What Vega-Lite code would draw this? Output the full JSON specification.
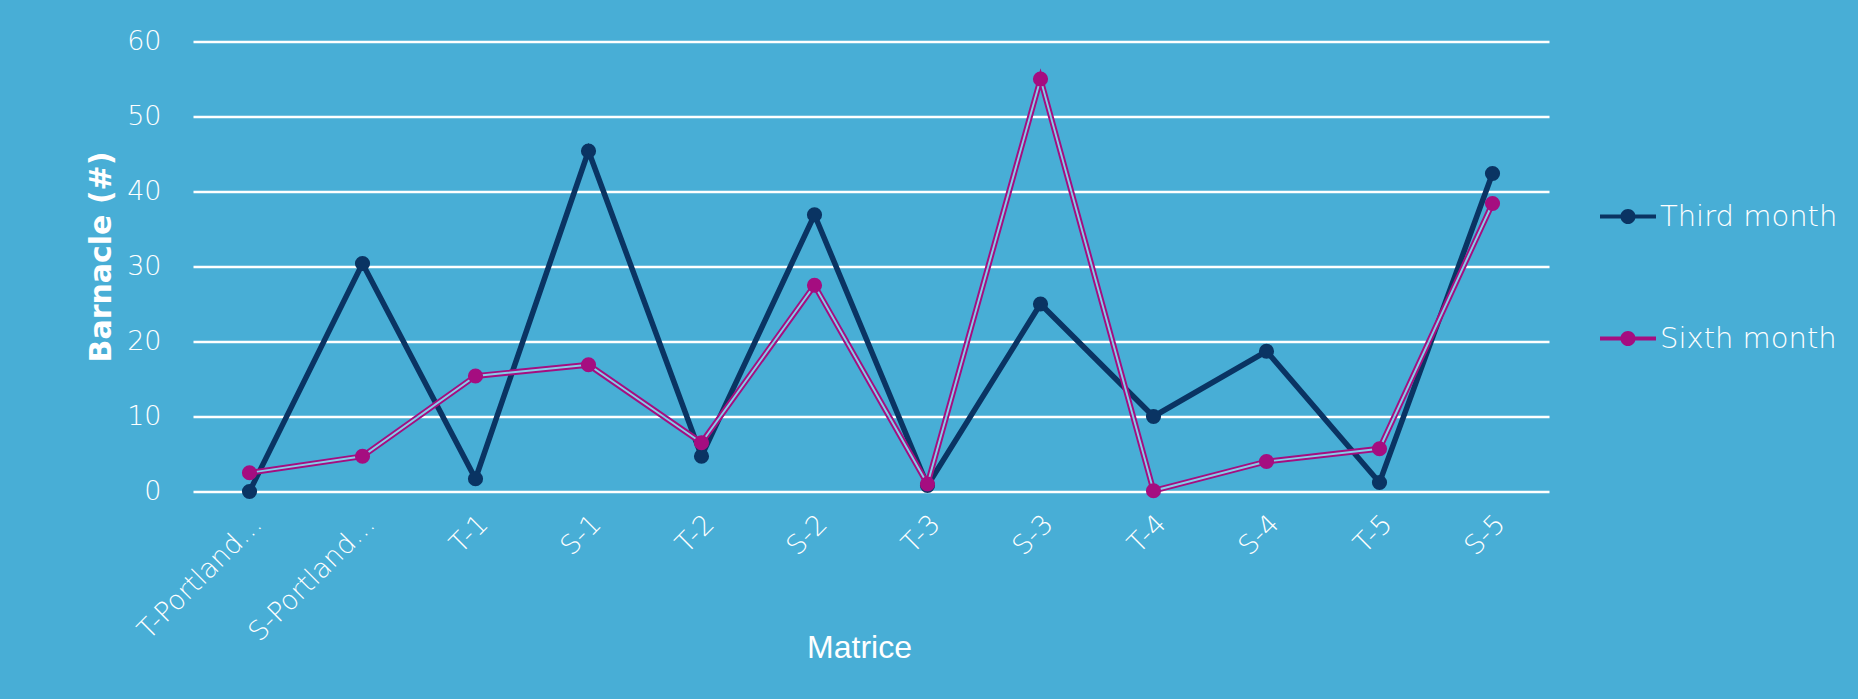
{
  "$schema": "https://vega.github.io/schema/vega-lite/v6.json",
  "width": 1356,
  "height": 450,
  "autosize": {"type": "none"},
  "padding": {"left": 193, "top": 41.5, "right": 309, "bottom": 207.5},
  "background": "#48aed6",
  "config": {"view": {"stroke": null}, "font": "DejaVu Sans"},
  "data": {
    "values": [
      {"matrice": "T-Portland cement", "series": "Third month", "barnacle": 0},
      {"matrice": "S-Portland cement", "series": "Third month", "barnacle": 30.4},
      {"matrice": "T-1", "series": "Third month", "barnacle": 1.7},
      {"matrice": "S-1", "series": "Third month", "barnacle": 45.4},
      {"matrice": "T-2", "series": "Third month", "barnacle": 4.7},
      {"matrice": "S-2", "series": "Third month", "barnacle": 36.9},
      {"matrice": "T-3", "series": "Third month", "barnacle": 0.8},
      {"matrice": "S-3", "series": "Third month", "barnacle": 25},
      {"matrice": "T-4", "series": "Third month", "barnacle": 10},
      {"matrice": "S-4", "series": "Third month", "barnacle": 18.7},
      {"matrice": "T-5", "series": "Third month", "barnacle": 1.2},
      {"matrice": "S-5", "series": "Third month", "barnacle": 42.4},
      {"matrice": "T-Portland cement", "series": "Sixth month", "barnacle": 2.5},
      {"matrice": "S-Portland cement", "series": "Sixth month", "barnacle": 4.7},
      {"matrice": "T-1", "series": "Sixth month", "barnacle": 15.4},
      {"matrice": "S-1", "series": "Sixth month", "barnacle": 16.9},
      {"matrice": "T-2", "series": "Sixth month", "barnacle": 6.5},
      {"matrice": "S-2", "series": "Sixth month", "barnacle": 27.5},
      {"matrice": "T-3", "series": "Sixth month", "barnacle": 1},
      {"matrice": "S-3", "series": "Sixth month", "barnacle": 55},
      {"matrice": "T-4", "series": "Sixth month", "barnacle": 0.1},
      {"matrice": "S-4", "series": "Sixth month", "barnacle": 4},
      {"matrice": "T-5", "series": "Sixth month", "barnacle": 5.7},
      {"matrice": "S-5", "series": "Sixth month", "barnacle": 38.4}
    ]
  },
  "encoding": {
    "x": {
      "field": "matrice",
      "type": "nominal",
      "sort": null,
      "scale": {"padding": 0.5},
      "axis": {
        "title": "Matrice",
        "labelExpr": "length(datum.label) > 12 ? slice(datum.label, 0, 10) + '…' : datum.label",
        "labelAngle": -45,
        "labelAlign": "right",
        "labelBaseline": "middle",
        "labelColor": "white",
        "labelFont": "DejaVu Sans",
        "labelFontSize": 27,
        "labelFontWeight": 200,
        "labelLimit": 300,
        "labelPadding": 28,
        "labelOffset": 8,
        "domain": false,
        "ticks": false,
        "grid": false,
        "titleColor": "white",
        "titleFont": "Liberation Sans",
        "titleFontSize": 32,
        "titleFontWeight": "normal",
        "titleX": 666,
        "titleY": 156,
        "titleBaseline": "middle",
        "titleAlign": "center"
      }
    },
    "y": {
      "field": "barnacle",
      "type": "quantitative",
      "scale": {"domain": [0, 60], "nice": false},
      "axis": {
        "title": "Barnacle (#)",
        "values": [0, 10, 20, 30, 40, 50, 60],
        "grid": true,
        "gridColor": "white",
        "gridWidth": 2.5,
        "gridOpacity": 1,
        "domain": false,
        "ticks": false,
        "labelColor": "white",
        "labelFont": "DejaVu Sans",
        "labelFontSize": 27,
        "labelFontWeight": 200,
        "labelPadding": 32,
        "titleColor": "white",
        "titleFont": "DejaVu Sans",
        "titleFontSize": 30,
        "titleFontWeight": "bold",
        "titlePadding": 10,
        "titleY": 215
      }
    }
  },
  "layer": [
    {
      "transform": [{"filter": "datum.series === 'Third month'"}],
      "mark": {"type": "line", "color": "#0a3463", "strokeWidth": 5.5},
      "encoding": {}
    },
    {
      "transform": [{"filter": "datum.series === 'Sixth month'"}],
      "mark": {"type": "line", "color": "#a50d80", "strokeWidth": 5.8},
      "encoding": {}
    },
    {
      "transform": [{"filter": "datum.series === 'Sixth month'"}],
      "mark": {"type": "line", "color": "#86cde8", "strokeWidth": 1.9},
      "encoding": {}
    },
    {
      "mark": {"type": "point", "filled": true, "opacity": 1, "size": 230},
      "encoding": {
        "color": {
          "field": "series",
          "type": "nominal",
          "scale": {"domain": ["Third month", "Sixth month"], "range": ["#0a3463", "#a50d80"]},
          "legend": {
            "title": null,
            "orient": "none",
            "legendX": 1407,
            "legendY": 147,
            "symbolType": "M-1,-0.075H1V0.075H-1Z M0.27,0A0.27,0.27 0 1,1 -0.27,0A0.27,0.27 0 1,1 0.27,0Z",
            "symbolSize": 3136,
            "symbolStrokeWidth": 0,
            "symbolOpacity": 1,
            "labelColor": "white",
            "labelFont": "DejaVu Sans",
            "labelFontSize": 29,
            "labelFontWeight": 200,
            "labelOffset": 4,
            "labelLimit": 300,
            "rowPadding": 79
          }
        }
      }
    }
  ]
}
